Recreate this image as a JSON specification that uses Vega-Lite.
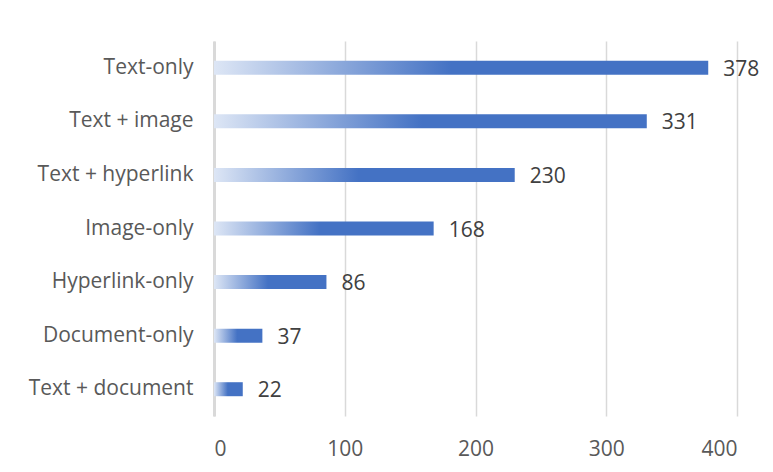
{
  "$schema": "https://vega.github.io/schema/vega-lite/v6.json",
  "width": 523,
  "height": 375,
  "autosize": {"type": "none"},
  "padding": {"left": 214, "top": 41, "right": 36, "bottom": 56},
  "background": "white",
  "config": {
    "view": {"stroke": null},
    "font": "Open Sans"
  },
  "data": {
    "values": [
      {"category": "Text-only", "count": 378},
      {"category": "Text + image", "count": 331},
      {"category": "Text + hyperlink", "count": 230},
      {"category": "Image-only", "count": 168},
      {"category": "Hyperlink-only", "count": 86},
      {"category": "Document-only", "count": 37},
      {"category": "Text + document", "count": 22}
    ]
  },
  "encoding": {
    "y": {
      "field": "category",
      "type": "nominal",
      "sort": ["Text-only", "Text + image", "Text + hyperlink", "Image-only", "Hyperlink-only", "Document-only", "Text + document"],
      "axis": {
        "title": null,
        "ticks": false,
        "domain": true,
        "domainColor": "#d9d9d9",
        "domainWidth": 3,
        "labelFontSize": 21,
        "labelColor": "#595959",
        "labelPadding": 21
      }
    },
    "x": {
      "field": "count",
      "type": "quantitative",
      "scale": {"domain": [0, 400]},
      "axis": {
        "title": null,
        "values": [0, 100, 200, 300, 400],
        "ticks": false,
        "domain": false,
        "grid": true,
        "gridColor": "#d9d9d9",
        "gridWidth": 1.5,
        "labelFontSize": 21,
        "labelColor": "#595959",
        "labelPadding": 22
      }
    }
  },
  "layer": [
    {
      "mark": {
        "type": "bar",
        "size": 14,
        "color": {
          "gradient": "linear",
          "x1": 0, "y1": 0, "x2": 1, "y2": 0,
          "stops": [
            {"offset": 0, "color": "#dde6f5"},
            {"offset": 0.48, "color": "#4472c4"},
            {"offset": 1, "color": "#4472c4"}
          ]
        }
      }
    },
    {
      "mark": {"type": "text", "align": "left", "dx": 15, "dy": 2, "fontSize": 21, "color": "#404040", "baseline": "middle"},
      "encoding": {"text": {"field": "count", "type": "quantitative"}}
    }
  ]
}
